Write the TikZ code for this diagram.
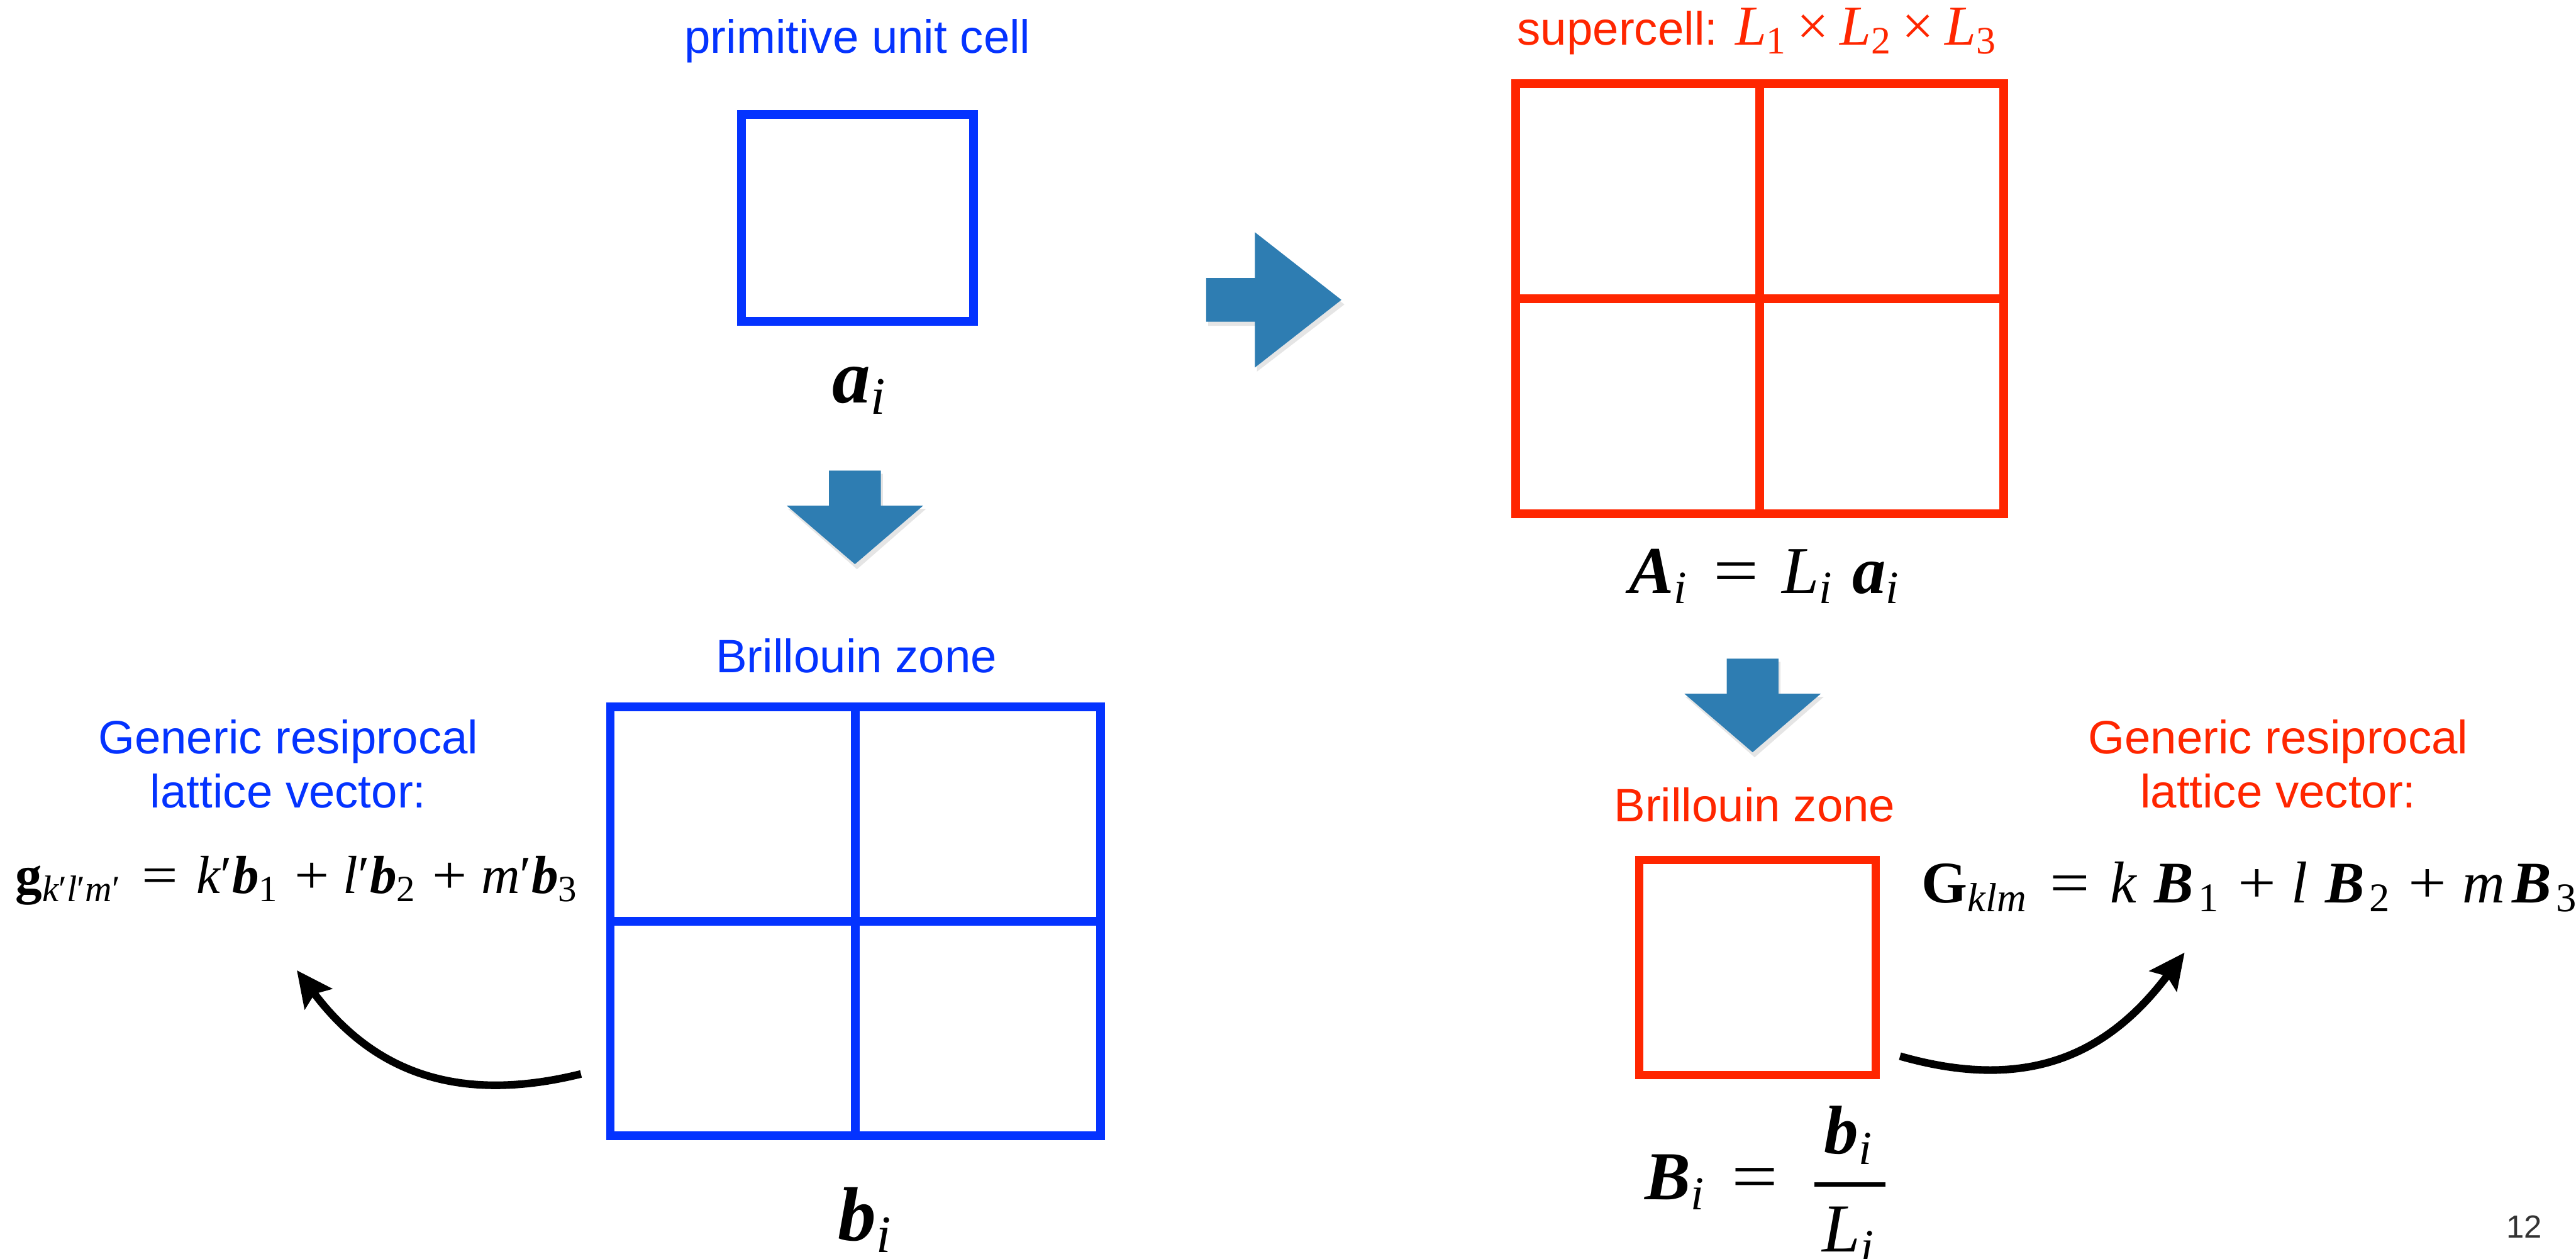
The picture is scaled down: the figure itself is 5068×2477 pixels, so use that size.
\documentclass[tikz,border=0pt]{standalone}
\usepackage{graphicx}
\usepackage{fontspec}
\newfontfamily\arialf{Liberation Sans}
\newfontfamily\tnr{Liberation Serif}
\usetikzlibrary{arrows.meta}
\definecolor{ablue}{RGB}{4,51,255}
\definecolor{ared}{RGB}{255,38,0}
\definecolor{arrblue}{RGB}{46,125,178}
\newcommand\Tbi[1]{{\tnr\bfseries\itshape #1}}
\newcommand\Tit[1]{{\tnr\itshape #1}}
\newcommand\Trm[1]{{\tnr #1}}
\newcommand\Tbf[1]{{\tnr\bfseries #1}}
\newcommand\Ts[1]{\raisebox{-0.15em}{\scalebox{0.69}{#1}}}
\newcommand\Teq{\hspace{0.4em}\scalebox{1.2}[1]{\tnr =}\hspace{0.35em}}
\newcommand\Tpl{\hspace{0.32em}\scalebox{1.15}[1]{\tnr +}\hspace{0.26em}}
\newcommand\Ttm{\hspace{0.2em}{\tnr ×}\hspace{0.2em}}
\newcommand\Tpr{{\tnr ′}}
\begin{document}
\begin{tikzpicture}[x=0.01cm,y=-0.01cm,
  lbl/.style={font=\arialf\fontsize{26.2}{30.4}\selectfont, inner sep=0pt, anchor=base},
  mth/.style={font=\fontsize{#1}{#1}\selectfont, inner sep=0pt, anchor=base},
  cell/.style={draw=#1, line width=0.17cm, inner sep=0pt, outer sep=0pt},
  gridline/.style={draw=#1, line width=0.17cm},
  blk/.style={fill=arrblue},
  shd/.style={fill=black, opacity=0.10},
  curv/.style={line width=0.15cm, -{Stealth[length=0.7cm, width=0.66cm, inset=0.12cm]}},
  dnarrow/.pic={
    \fill[shd] (-49,6) -- (55,6) -- (55,75) -- (140,75) -- (4,194) -- (-132,75) -- (-49,75) -- cycle;
    \fill[blk] (-51,0) -- (51,0) -- (51,69) -- (134,69) -- (0,184) -- (-134,69) -- (-51,69) -- cycle;
  },
  rtarrow/.pic={
    \fill[shd] (4,-37) -- (100,-37) -- (100,-127) -- (272,9) -- (100,141) -- (100,51) -- (4,51) -- cycle;
    \fill[blk] (0,-43) -- (96,-43) -- (96,-133) -- (266,0) -- (96,133) -- (96,43) -- (0,43) -- cycle;
  }
]
\fill[white] (0,0) rectangle (5068,2477);
\useasboundingbox (0,0) rectangle (5068,2477);

% ---- primitive cell (left top)
\node[lbl, text=ablue] (tprim) at (1687,105) {primitive unit cell};
\node[cell=ablue, minimum width=4.56cm, minimum height=4.07cm] (prim) at (1687,428.5) {};
\node[mth=42.7] (ai) at (1690,792) {\Tbi{a}\Ts{\Tit{i}}};
\pic at (1682,926) {dnarrow};

% ---- Brillouin zone (blue)
\node[lbl, text=ablue] (tbz) at (1685,1323) {Brillouin zone};
\node[cell=ablue, minimum width=9.64cm, minimum height=8.43cm] (bz) at (1683,1812.5) {};
\draw[gridline=ablue] (bz.north) -- (bz.south);
\draw[gridline=ablue] (bz.west) -- (bz.east);
\node[mth=42.7] (bi) at (1701,2441) {\Tbi{b}\Ts{\Tit{i}}};

\node[lbl, text=ablue] (tgen1) at (567,1483) {Generic resiprocal};
\node[lbl, text=ablue] (tgen2) at (567,1589) {lattice vector:};
\node[mth=30, anchor=base west] (gf) at (30,1758) {\Tbf{g}\Ts{\Tit{k}\Tpr\Tit{l}\Tpr\Tit{m}\Tpr}\Teq\Tit{k}\Tpr\Tbi{b}\Ts{\Trm{1}}\Tpl\Tit{l}\Tpr\Tbi{b}\Ts{\Trm{2}}\Tpl\Tit{m}\Tpr\Tbi{b}\Ts{\Trm{3}}};

\coordinate (la0) at (1143,2113);
\coordinate (la1) at (584,1909);
\draw[curv] (la0) .. controls (900,2173) and (734,2109) .. (la1);

% ---- right arrow
\pic at (2373,590) {rtarrow};

% ---- supercell
\node[lbl, text=ared] (tsup) at (3456,89) {supercell: {\fontsize{31.5}{31.5}\selectfont\Tit{L}\Ts{\Trm{1}}\Ttm\Tit{L}\Ts{\Trm{2}}\Ttm\Tit{L}\Ts{\Trm{3}}}};
\node[cell=ared, minimum width=9.6cm, minimum height=8.46cm] (sup) at (3462,588) {};
\draw[gridline=ared] (sup.north) -- (sup.south);
\draw[gridline=ared] (sup.west) -- (sup.east);
\node[mth=37.5, anchor=base west] (Ai) at (3204,1167) {\Tbi{A}\Ts{\Tit{i}}\Teq\Tit{L}\Ts{\Tit{i}}\hspace{0.3em}\Tbi{a}\Ts{\Tit{i}}};
\pic at (3448,1296) {dnarrow};

% ---- Brillouin zone (red)
\node[lbl, text=ared] (tbzr) at (3452,1616) {Brillouin zone};
\node[cell=ared, minimum width=4.65cm, minimum height=4.23cm] (bzr) at (3457.5,1903.5) {};
\node[mth=38.4, anchor=base west] (Bi) at (3236,2360) {\Tbi{B}\Ts{\Tit{i}}\Teq};
\node[mth=38.4] (Bnum) at (3636,2270) {\Tbi{b}\Ts{\Tit{i}}};
\node[mth=38.4] (Bden) at (3636,2463) {\Tit{L}\Ts{\Tit{i}}};
\draw[line width=0.09cm] (3570,2330) -- (3710,2330);

\node[lbl, text=ared] (tgen3) at (4482,1483) {Generic resiprocal};
\node[lbl, text=ared] (tgen4) at (4482,1589) {lattice vector:};
\node[mth=33, anchor=base west] (Gf) at (3780,1776) {\Tbf{G}\Ts{\Tit{klm}}\Teq\Tit{k}\hspace{0.3em}\Tbi{B}\hspace{0.08em}\Ts{\Trm{1}}\Tpl\Tit{l}\hspace{0.3em}\Tbi{B}\hspace{0.08em}\Ts{\Trm{2}}\Tpl\Tit{m}\hspace{0.12em}\Tbi{B}\hspace{0.08em}\Ts{\Trm{3}}};

\coordinate (ra0) at (3738,2078);
\coordinate (ra1) at (4298,1874);
\draw[curv] (ra0) .. controls (3990,2150) and (4148,2074) .. (ra1);

% ---- page number
\node[font=\arialf\fontsize{17.9}{17.9}\selectfont, text=black!80, inner sep=0pt, anchor=base] (pg) at (4966,2435) {12};
\end{tikzpicture}
\end{document}
